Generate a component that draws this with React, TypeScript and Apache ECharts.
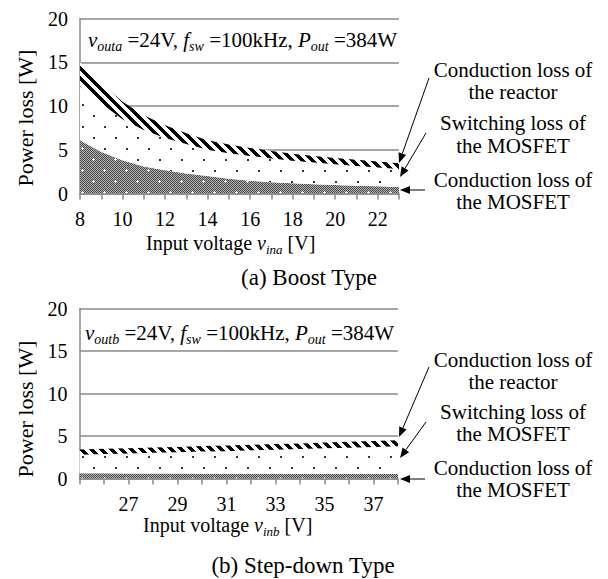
import React, { useEffect, useRef } from "react";
import * as echarts from "echarts";

// ---------- data ----------
const boostVin = [8, 9, 10, 11, 12, 13, 14, 15, 16, 17, 18, 19, 20, 21, 22, 23];
const boostMosfetConduction = [6.1, 4.75, 3.8, 3.1, 2.65, 2.3, 2.0, 1.7, 1.45, 1.3, 1.18, 1.07, 0.98, 0.9, 0.82, 0.75];
const boostMosfetSwitching = [6.2, 5.55, 4.7, 4.15, 3.7, 3.35, 3.0, 2.9, 2.85, 2.7, 2.57, 2.48, 2.35, 2.25, 2.15, 2.05];
const boostReactorConduction = [2.7, 2.3, 2.0, 1.7, 1.45, 1.25, 1.1, 1.0, 0.9, 0.85, 0.8, 0.75, 0.72, 0.7, 0.68, 0.65];
const boostTickLabels = ["8", "10", "12", "14", "16", "18", "20", "22"];

const stepDownVin = [25, 26, 27, 28, 29, 30, 31, 32, 33, 34, 35, 36, 37, 38];
const stepDownMosfetConduction = [0.62, 0.61, 0.6, 0.59, 0.58, 0.57, 0.56, 0.56, 0.55, 0.54, 0.54, 0.53, 0.53, 0.52];
const stepDownMosfetSwitching = [2.18, 2.27, 2.33, 2.43, 2.5, 2.6, 2.66, 2.76, 2.84, 2.92, 3.02, 3.1, 3.18, 3.28];
const stepDownReactorConduction = [0.6, 0.61, 0.62, 0.62, 0.63, 0.64, 0.65, 0.65, 0.66, 0.67, 0.68, 0.68, 0.69, 0.7];
const stepDownTickLabels = ["27", "29", "31", "33", "35", "37"];

const Y_MIN = 0;
const Y_MAX = 20;
const Y_STEP = 5;

const annotationLines = [
  "Conduction loss of",
  "the reactor",
  "Switching loss of",
  "the MOSFET",
  "Conduction loss of",
  "the MOSFET",
];

// ---------- style ----------
const FONT = '"Liberation Serif", "Times New Roman", serif';
const GRID_COLOR = "#8a8a8a";

type Seg = { t: string; it?: boolean; sub?: boolean };

function makePattern(w: number, h: number, draw: (ctx: CanvasRenderingContext2D) => void) {
  const c = document.createElement("canvas");
  c.width = w;
  c.height = h;
  const ctx = c.getContext("2d")!;
  draw(ctx);
  return { image: c.toDataURL(), repeat: "repeat", imageWidth: w, imageHeight: h };
}

function measure(text: string, size: number, italic: boolean) {
  const c = document.createElement("canvas");
  const ctx = c.getContext("2d")!;
  ctx.font = `${italic ? "italic " : ""}${size}px ${FONT}`;
  return ctx.measureText(text).width;
}

function richLine(segs: Seg[], x: number, y: number, size: number, subSize: number) {
  const out: any[] = [];
  let cx = x;
  for (const s of segs) {
    const fs = s.sub ? subSize : size;
    out.push({
      type: "text",
      x: cx,
      y: s.sub ? y + size * 0.3 : y,
      silent: true,
      style: {
        text: s.t,
        font: `${s.it ? "italic " : ""}${fs}px ${FONT}`,
        fill: "#000",
        align: "left",
        verticalAlign: "middle",
      },
    });
    cx += measure(s.t, fs, !!s.it);
  }
  return out;
}

function arrow(x1: number, y1: number, x2: number, y2: number) {
  const ang = Math.atan2(y2 - y1, x2 - x1);
  const L = 10;
  const W = 4;
  const bx = x2 - L * Math.cos(ang);
  const by = y2 - L * Math.sin(ang);
  const px = -Math.sin(ang) * W;
  const py = Math.cos(ang) * W;
  return [
    { type: "line", silent: true, shape: { x1, y1, x2: bx, y2: by }, style: { stroke: "#000", lineWidth: 1 } },
    {
      type: "polygon",
      silent: true,
      shape: { points: [[x2, y2], [bx + px, by + py], [bx - px, by - py]] },
      style: { fill: "#000" },
    },
  ];
}

function centeredText(text: string, x: number, y: number, size: number) {
  return {
    type: "text",
    x,
    y,
    silent: true,
    style: { text, font: `${size}px ${FONT}`, fill: "#000", align: "center", verticalAlign: "middle" },
  };
}

export default function App() {
  const ref = useRef<HTMLDivElement>(null);

  useEffect(() => {
    if (!ref.current) return;
    const chart = echarts.init(ref.current, null, { renderer: "svg" });

    const crossHatch = makePattern(22, 22, (ctx) => {
      ctx.fillStyle = "#b4b4b4";
      ctx.fillRect(0, 0, 22, 22);
      ctx.fillStyle = "#484848";
      for (let y = 0; y < 22; y++)
        for (let x = 0; x < 22; x++) if ((x + y) % 2 === 0) ctx.fillRect(x, y, 1, 1);
      ctx.fillStyle = "#ffffff";
      for (const [cx, cy] of [[5, 5], [16, 16]]) {
        ctx.fillRect(cx - 1, cy, 3, 1);
        ctx.fillRect(cx, cy - 1, 1, 3);
      }
    });
    const dots = makePattern(22, 22, (ctx) => {
      ctx.fillStyle = "#ffffff";
      ctx.fillRect(0, 0, 22, 22);
      ctx.fillStyle = "#333333";
      ctx.fillRect(5, 5, 2, 2);
      ctx.fillRect(16, 16, 2, 2);
    });
    const stripes = makePattern(10, 10, (ctx) => {
      ctx.fillStyle = "#ffffff";
      ctx.fillRect(0, 0, 10, 10);
      ctx.fillStyle = "#000000";
      for (let y = 0; y < 10; y++)
        for (let x = 0; x < 10; x++) if ((x - y + 20) % 10 < 5) ctx.fillRect(x, y, 1, 1);
    });

    const xAxis = (gridIndex: number, cats: number[], labels: string[]) => ({
      type: "category",
      gridIndex,
      data: cats.map(String),
      boundaryGap: false,
      axisLine: { show: true, onZero: false, lineStyle: { color: GRID_COLOR, width: 1.5 } },
      axisTick: { show: true, interval: 0, length: 6, lineStyle: { color: GRID_COLOR, width: 1.5 } },
      splitLine: { show: false },
      axisLabel: {
        interval: (_i: number, v: string) => labels.includes(v),
        margin: 15,
        color: "#000",
        fontFamily: FONT,
        fontSize: 20,
      },
    });
    const yAxis = (gridIndex: number) => ({
      type: "value",
      gridIndex,
      min: Y_MIN,
      max: Y_MAX,
      interval: Y_STEP,
      axisLine: { show: true, lineStyle: { color: GRID_COLOR, width: 1.5 } },
      axisTick: { show: false },
      splitLine: { show: true, lineStyle: { color: GRID_COLOR, width: 1.5 } },
      axisLabel: { margin: 12, color: "#000", fontFamily: FONT, fontSize: 20 },
    });
    const area = (idx: number, stack: string, ys: number[], pattern: any, name: string) => ({
      type: "line",
      name,
      xAxisIndex: idx,
      yAxisIndex: idx,
      stack,
      data: ys,
      symbol: "none",
      showSymbol: false,
      lineStyle: { width: 0, opacity: 0 },
      areaStyle: { color: pattern, opacity: 1 },
      silent: true,
    });

    const graphics: any[] = [];
    const cond = (sub: string): Seg[] => [
      { t: "v", it: true },
      { t: sub, it: true, sub: true },
      { t: " =24V, " },
      { t: "f", it: true },
      { t: "sw", it: true, sub: true },
      { t: " =100kHz, " },
      { t: "P", it: true },
      { t: "out", it: true, sub: true },
      { t: " =384W" },
    ];
    graphics.push(...richLine(cond("outa"), 88, 40, 21, 14), ...richLine(cond("outb"), 85, 333, 21, 14));
    // x-axis titles
    graphics.push(
      ...richLine(
        [{ t: "Input voltage " }, { t: "v", it: true }, { t: "ina", it: true, sub: true }, { t: " [V]" }],
        146,
        243,
        20,
        13
      ),
      ...richLine(
        [{ t: "Input voltage " }, { t: "v", it: true }, { t: "inb", it: true, sub: true }, { t: " [V]" }],
        143,
        525,
        20,
        13
      )
    );
    // y-axis titles
    for (const [cx, cy] of [[25, 118], [25, 409]]) {
      graphics.push({
        type: "text",
        x: cx,
        y: cy,
        rotation: Math.PI / 2,
        silent: true,
        style: { text: "Power loss [W]", font: `22px ${FONT}`, fill: "#000", align: "center", verticalAlign: "middle" },
      });
    }
    // captions
    graphics.push(centeredText("(a) Boost Type", 309, 277, 23));
    graphics.push(centeredText("(b) Step-down Type", 303, 565, 23));
    // annotations
    const topYs = [70, 92, 123, 146, 180, 202];
    const botYs = [360, 382, 412, 434, 468, 490];
    annotationLines.forEach((t, i) => {
      graphics.push(centeredText(t, 513, topYs[i], 21));
      graphics.push(centeredText(t, 513, botYs[i], 21));
    });
    graphics.push(
      ...arrow(429, 78, 399, 163),
      ...arrow(426, 133, 400, 177),
      ...arrow(425, 190, 400, 190),
      ...arrow(429, 367, 399, 437),
      ...arrow(426, 422, 400, 458),
      ...arrow(425, 479, 400, 479)
    );

    chart.setOption({
      animation: false,
      backgroundColor: "#ffffff",
      grid: [
        { left: 80, top: 18.5, width: 319, height: 175 },
        { left: 79.5, top: 308.5, width: 318.5, height: 170 },
      ],
      xAxis: [xAxis(0, boostVin, boostTickLabels), xAxis(1, stepDownVin, stepDownTickLabels)],
      yAxis: [yAxis(0), yAxis(1)],
      series: [
        area(0, "boost", boostMosfetConduction, crossHatch, "Conduction loss of the MOSFET"),
        area(0, "boost", boostMosfetSwitching, dots, "Switching loss of the MOSFET"),
        area(0, "boost", boostReactorConduction, stripes, "Conduction loss of the reactor"),
        area(1, "stepdown", stepDownMosfetConduction, crossHatch, "Conduction loss of the MOSFET"),
        area(1, "stepdown", stepDownMosfetSwitching, dots, "Switching loss of the MOSFET"),
        area(1, "stepdown", stepDownReactorConduction, stripes, "Conduction loss of the reactor"),
      ],
      graphic: graphics,
    });

    return () => chart.dispose();
  }, []);

  return (
    <div
      ref={ref}
      style={{ position: "absolute", left: 0, top: 0, width: 608, height: 579, background: "#fff" }}
    />
  );
}
